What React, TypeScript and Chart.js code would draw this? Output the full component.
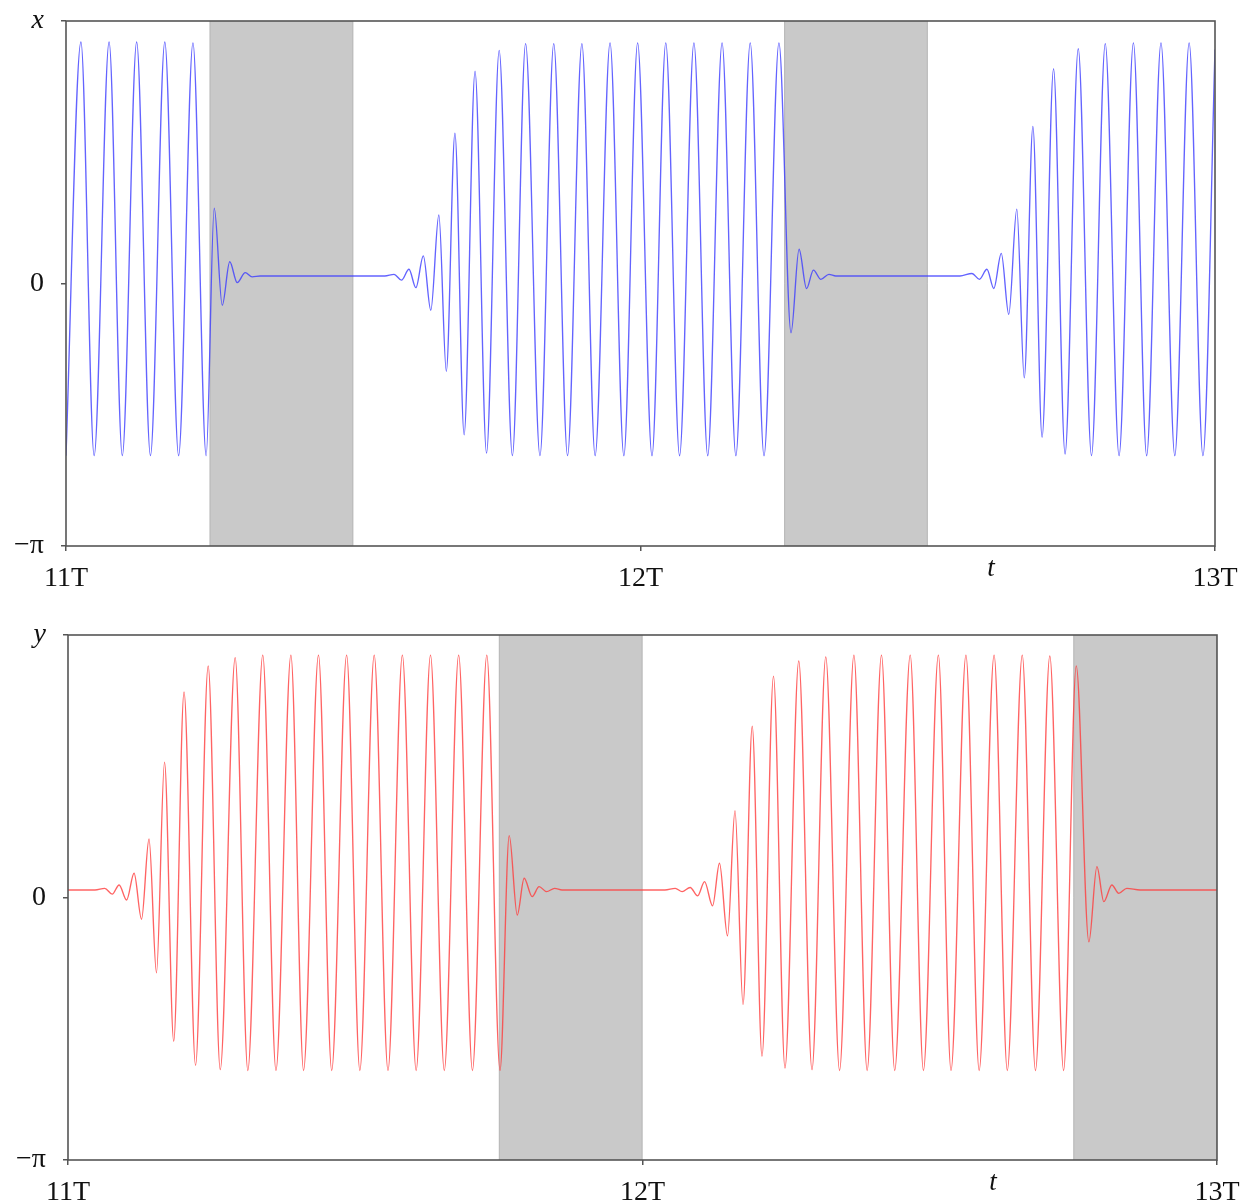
import React, { useEffect, useRef } from 'react';
import { Chart, registerables } from 'chart.js';

Chart.register(...registerables);

const PI = Math.PI;

// Axis ticks
const xTickValues = [11, 12, 13];
const xTickLabels = ['11T', '12T', '13T'];
const yTickValues = [-PI, 0, PI];
const topYTickLabels = ['−π', '0', 'x'];
const botYTickLabels = ['−π', '0', 'y'];
const xAxisTitle = 't';
const xAxisTitleAt = 12.61;

// Shaded intervals (in units of T)
const topShadeStart = [11.25, 12.25];
const topShadeEnd = [11.5, 12.5];
const botShadeStart = [11.75, 12.75];
const botShadeEnd = [12, 13];

// Top panel: x(t), extrema
const topT = [
  11.000, 11.026, 11.049, 11.075, 11.098, 11.123, 11.147, 11.172, 11.196, 11.221,
  11.244, 11.258, 11.272, 11.285, 11.298, 11.312, 11.324, 11.338, 11.555, 11.571,
  11.584, 11.597, 11.609, 11.622, 11.635, 11.649, 11.662, 11.677, 11.693, 11.712,
  11.732, 11.754, 11.777, 11.800, 11.825, 11.849, 11.873, 11.898, 11.921, 11.947,
  11.971, 11.995, 12.020, 12.044, 12.068, 12.093, 12.117, 12.142, 12.166, 12.191,
  12.215, 12.241, 12.262, 12.276, 12.289, 12.301, 12.314, 12.328, 12.340, 12.556,
  12.577, 12.590, 12.603, 12.615, 12.628, 12.641, 12.655, 12.668, 12.683, 12.699,
  12.719, 12.739, 12.762, 12.785, 12.809, 12.833, 12.858, 12.881, 12.906, 12.930,
  12.955, 12.979, 13.000,
];
const topX = [
  -2.06, 2.89, -2.06, 2.89, -2.06, 2.89, -2.06, 2.89, -2.06, 2.88,
  -2.06, 0.90, -0.26, 0.26, 0.01, 0.13, 0.08, 0.09, 0.09, 0.11,
  0.04, 0.17, -0.05, 0.33, -0.32, 0.82, -1.05, 1.80, -1.81, 2.54,
  -2.03, 2.79, -2.06, 2.87, -2.06, 2.87, -2.06, 2.87, -2.06, 2.88,
  -2.06, 2.88, -2.06, 2.88, -2.06, 2.88, -2.06, 2.88, -2.06, 2.88,
  -2.06, 2.88, -0.59, 0.41, -0.06, 0.16, 0.05, 0.11, 0.09, 0.09,
  0.12, 0.05, 0.17, -0.06, 0.36, -0.37, 0.89, -1.13, 1.88, -1.84,
  2.57, -2.04, 2.81, -2.06, 2.87, -2.06, 2.88, -2.06, 2.88, -2.06,
  2.88, -2.06, 2.80,
];

// Bottom panel: y(t), extrema
const botT = [
  11.000, 11.047, 11.064, 11.077, 11.089, 11.102, 11.115, 11.128, 11.141, 11.154,
  11.168, 11.184, 11.202, 11.222, 11.244, 11.265, 11.291, 11.313, 11.339, 11.362,
  11.388, 11.410, 11.436, 11.459, 11.485, 11.508, 11.533, 11.557, 11.582, 11.606,
  11.631, 11.655, 11.680, 11.704, 11.729, 11.752, 11.768, 11.782, 11.794, 11.808,
  11.820, 11.833, 11.847, 11.860, 12.039, 12.057, 12.069, 12.083, 12.096, 12.108,
  12.122, 12.134, 12.148, 12.161, 12.175, 12.191, 12.208, 12.228, 12.248, 12.272,
  12.295, 12.319, 12.343, 12.368, 12.391, 12.416, 12.439, 12.466, 12.489, 12.515,
  12.537, 12.563, 12.586, 12.612, 12.635, 12.661, 12.684, 12.709, 12.733, 12.755,
  12.777, 12.791, 12.803, 12.817, 12.829, 12.843, 12.866, 13.000,
];
const botY = [
  0.09, 0.09, 0.11, 0.04, 0.15, -0.03, 0.29, -0.26, 0.70, -0.90,
  1.62, -1.72, 2.46, -2.01, 2.77, -2.06, 2.87, -2.07, 2.90, -2.07,
  2.90, -2.07, 2.90, -2.07, 2.90, -2.07, 2.90, -2.07, 2.90, -2.07,
  2.90, -2.07, 2.90, -2.07, 2.90, -2.07, 0.74, -0.21, 0.23, 0.01,
  0.13, 0.07, 0.11, 0.09, 0.09, 0.11, 0.07, 0.12, 0.02, 0.19,
  -0.10, 0.41, -0.46, 1.04, -1.28, 2.05, -1.90, 2.65, -2.04, 2.83,
  -2.06, 2.88, -2.07, 2.90, -2.07, 2.90, -2.07, 2.90, -2.07, 2.90,
  -2.07, 2.90, -2.07, 2.90, -2.07, 2.90, -2.07, 2.89, -2.07, 2.77,
  -0.53, 0.37, -0.05, 0.15, 0.05, 0.11, 0.09, 0.09,
];

const FONT = 'Liberation Serif';

type PanelProps = {
  t: number[];
  v: number[];
  color: string;
  shadeStart: number[];
  shadeEnd: number[];
  yLabels: string[];
  top: number;
  height: number;
  plotLeft: number;
  plotRight: number;
  plotTop: number;
  plotBottom: number;
};

function Panel(p: PanelProps) {
  const ref = useRef<HTMLCanvasElement | null>(null);
  useEffect(() => {
    if (!ref.current) return;
    const W = 1245;
    const shadePlugin = {
      id: 'shade',
      beforeDatasetsDraw(chart: any) {
        const { ctx, chartArea } = chart;
        const xs = chart.scales.x;
        ctx.save();
        for (let i = 0; i < p.shadeStart.length; i++) {
          const x1 = xs.getPixelForValue(p.shadeStart[i]);
          const x2 = xs.getPixelForValue(p.shadeEnd[i]);
          ctx.fillStyle = '#c9c9c9';
          ctx.fillRect(x1, chartArea.top, x2 - x1, chartArea.bottom - chartArea.top);
          ctx.strokeStyle = '#b9b9b9';
          ctx.lineWidth = 1;
          ctx.beginPath();
          ctx.moveTo(x1 + 0.5, chartArea.top);
          ctx.lineTo(x1 + 0.5, chartArea.bottom);
          ctx.moveTo(x2 - 0.5, chartArea.top);
          ctx.lineTo(x2 - 0.5, chartArea.bottom);
          ctx.stroke();
        }
        ctx.restore();
      },
    };
    const framePlugin = {
      id: 'frame',
      afterDraw(chart: any) {
        const { ctx, chartArea } = chart;
        const xs = chart.scales.x;
        ctx.save();
        ctx.strokeStyle = '#555';
        ctx.lineWidth = 1.6;
        ctx.strokeRect(chartArea.left, chartArea.top, chartArea.right - chartArea.left, chartArea.bottom - chartArea.top);
        ctx.fillStyle = '#111';
        ctx.font = `italic 27px "${FONT}"`;
        ctx.textAlign = 'center';
        ctx.textBaseline = 'middle';
        ctx.fillText(xAxisTitle, xs.getPixelForValue(xAxisTitleAt), chartArea.bottom + 23);
        ctx.restore();
      },
    };
    const findIdx = (vals: number[], v: number) => vals.findIndex((a) => Math.abs(a - v) < 1e-6);
    const chart = new Chart(ref.current, {
      type: 'line',
      data: {
        datasets: [
          {
            data: p.t.map((x, i) => ({ x, y: p.v[i] })),
            borderColor: p.color,
            borderWidth: 1.35,
            pointRadius: 0,
            fill: false,
            cubicInterpolationMode: 'monotone',
          } as any,
        ],
      },
      options: {
        animation: false,
        responsive: false,
        devicePixelRatio: 1,
        layout: { padding: { left: 0, right: W - p.plotRight, top: p.plotTop, bottom: 0 } },
        plugins: { legend: { display: false }, tooltip: { enabled: false } },
        scales: {
          x: {
            type: 'linear',
            min: 11,
            max: 13,
            afterBuildTicks: (s: any) => {
              s.ticks = xTickValues.map((value) => ({ value }));
            },
            afterFit: (s: any) => {
              s.height = p.height - p.plotBottom;
              s.paddingLeft = 0;
              s.paddingRight = 0;
              s.paddingTop = 0;
              s.paddingBottom = 0;
            },
            ticks: {
              autoSkip: false,
              maxRotation: 0,
              padding: 11,
              color: '#111',
              font: { family: FONT, size: 28 },
              callback: (value: any) => {
                const i = findIdx(xTickValues, Number(value));
                return i >= 0 ? xTickLabels[i] : '';
              },
            },
            grid: { drawOnChartArea: false, drawTicks: true, tickLength: 5, color: '#555', lineWidth: 1.5 },
            border: { display: false },
          },
          y: {
            type: 'linear',
            min: -PI,
            max: PI,
            afterBuildTicks: (s: any) => {
              s.ticks = yTickValues.map((value) => ({ value }));
            },
            afterFit: (s: any) => {
              s.width = p.plotLeft;
              s.paddingLeft = 0;
              s.paddingRight = 0;
              s.paddingTop = 0;
              s.paddingBottom = 0;
            },
            ticks: {
              autoSkip: false,
              padding: 17,
              color: '#111',
              font: (ctx: any) => ({
                family: FONT,
                size: 28,
                style: ctx.tick && ctx.tick.value > 1 ? 'italic' : 'normal',
              }),
              callback: (value: any) => {
                const i = findIdx(yTickValues, Number(value));
                return i >= 0 ? p.yLabels[i] : '';
              },
            },
            grid: { drawOnChartArea: false, drawTicks: true, tickLength: 5, color: '#555', lineWidth: 1.5 },
            border: { display: false },
          },
        },
      } as any,
      plugins: [shadePlugin, framePlugin],
    });
    return () => chart.destroy();
  }, []);
  return (
    <canvas
      ref={ref}
      width={1245}
      height={p.height}
      style={{ position: 'absolute', left: 0, top: p.top, width: 1245, height: p.height }}
    />
  );
}

export default function App() {
  return (
    <div style={{ position: 'absolute', left: 0, top: 0, width: 1245, height: 1204, background: '#fff', overflow: 'hidden' }}>
      <Panel
        t={topT}
        v={topX}
        color="rgba(60,60,255,0.8)"
        shadeStart={topShadeStart}
        shadeEnd={topShadeEnd}
        yLabels={topYTickLabels}
        top={0}
        height={615}
        plotLeft={66}
        plotRight={1215}
        plotTop={21}
        plotBottom={546}
      />
      <Panel
        t={botT}
        v={botY}
        color="rgba(255,60,60,0.8)"
        shadeStart={botShadeStart}
        shadeEnd={botShadeEnd}
        yLabels={botYTickLabels}
        top={615}
        height={589}
        plotLeft={68}
        plotRight={1217}
        plotTop={20}
        plotBottom={545}
      />
    </div>
  );
}
